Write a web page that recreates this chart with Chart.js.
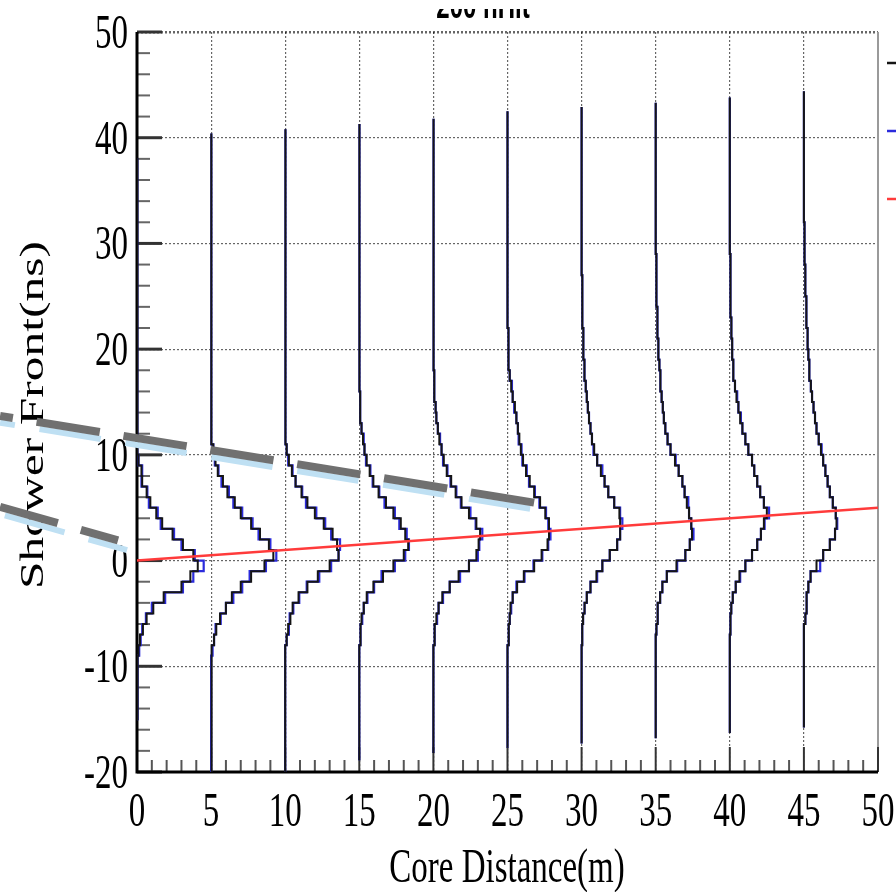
<!DOCTYPE html>
<html>
<head>
<meta charset="utf-8">
<script src="https://cdn.jsdelivr.net/npm/chart.js@4.4.1/dist/chart.umd.min.js"></script>
<style>
html, body { margin: 0; padding: 0; background: #fff; overflow: hidden; }
canvas { display: block; }
</style>
</head>
<body>
<canvas id="showerChart" width="896" height="892"></canvas>
<script>
// 芯距位置（每个剖面的基线 x）
const coreX = [0, 5, 10, 15, 20, 25, 30, 35, 40, 45];
// 基线竖线的上下端 (ns)
const stemBottom = [-15, -20, -20, -18.9, -18.2, -17.7, -17.3, -16.8, -16.3, -15.8];
const stemTop = [38, 40.4, 40.8, 41.3, 41.8, 42.5, 42.9, 43.3, 43.8, 44.4];
// 每个直方图第一个 bin 的下沿，bin 宽 1 ns
const binStart = [-10, -9, -8, -8, -8, -8, -8, -7, -7, -6];

// 黑色直方图：每个 bin 向右伸出的宽度 (m)
const blackWidths = [
    [0.05, 0.1, 0.2, 0.4, 0.65, 1.1, 1.8, 3.0, 3.6, 4.1, 3.8, 3.1, 2.4, 1.7, 1.3, 0.9, 0.65, 0.35, 0.3, 0.1, 0.05],
    [0.05, 0.2, 0.35, 0.6, 1.0, 1.4, 2.0, 2.7, 3.6, 4.2, 3.9, 3.3, 2.7, 2.0, 1.6, 1.1, 0.8, 0.45, 0.3, 0.15, 0.05],
    [0.1, 0.2, 0.35, 0.5, 0.9, 1.5, 2.2, 3.0, 3.6, 3.5, 3.2, 2.6, 2.0, 1.5, 1.1, 0.7, 0.45, 0.25, 0.1, 0.05],
    [0.05, 0.1, 0.15, 0.3, 0.5, 0.95, 1.6, 2.3, 3.0, 3.3, 3.1, 2.8, 2.3, 1.8, 1.3, 0.95, 0.7, 0.5, 0.35, 0.25, 0.15, 0.1, 0.05, 0.05, 0.03],
    [0.05, 0.1, 0.2, 0.35, 0.6, 1.1, 1.7, 2.4, 2.9, 3.05, 3.15, 2.9, 2.4, 1.9, 1.5, 1.2, 0.9, 0.7, 0.55, 0.4, 0.3, 0.2, 0.15, 0.1, 0.05, 0.05, 0.03],
    [0.05, 0.1, 0.15, 0.2, 0.35, 0.65, 1.1, 1.8, 2.3, 2.7, 2.8, 2.8, 2.55, 2.2, 1.8, 1.5, 1.25, 1.05, 0.9, 0.8, 0.7, 0.6, 0.5, 0.35, 0.25, 0.15, 0.1, 0.08, 0.05, 0.05],
    [0.03, 0.05, 0.1, 0.2, 0.35, 0.6, 1.0, 1.4, 1.9, 2.4, 2.6, 2.6, 2.55, 2.2, 1.8, 1.55, 1.3, 1.05, 0.85, 0.7, 0.6, 0.5, 0.42, 0.35, 0.28, 0.22, 0.18, 0.15, 0.12, 0.1, 0.08, 0.06, 0.05, 0.04, 0.03],
    [0.05, 0.1, 0.15, 0.3, 0.45, 0.75, 1.4, 2.0, 2.3, 2.45, 2.4, 2.25, 2.1, 1.95, 1.8, 1.55, 1.3, 1.0, 0.8, 0.65, 0.55, 0.48, 0.4, 0.35, 0.3, 0.25, 0.2, 0.17, 0.14, 0.12, 0.1, 0.08, 0.06, 0.05, 0.04, 0.03],
    [0.03, 0.05, 0.1, 0.2, 0.4, 0.65, 1.05, 1.5, 1.85, 2.1, 2.3, 2.5, 2.3, 2.05, 1.85, 1.65, 1.5, 1.25, 1.05, 0.85, 0.7, 0.58, 0.45, 0.35, 0.27, 0.22, 0.18, 0.15, 0.12, 0.1, 0.08, 0.06, 0.05, 0.04, 0.03, 0.03],
    [0.1, 0.15, 0.2, 0.3, 0.45, 0.85, 1.3, 1.75, 2.1, 2.2, 2.15, 1.95, 1.75, 1.6, 1.45, 1.3, 1.15, 1.0, 0.85, 0.75, 0.65, 0.55, 0.47, 0.4, 0.35, 0.3, 0.27, 0.24, 0.2, 0.17, 0.15, 0.12, 0.1, 0.08, 0.06, 0.05, 0.04, 0.03]
];

// 蓝色直方图
const blueWidths = [
    [0.05, 0.15, 0.25, 0.35, 0.6, 1.0, 1.9, 3.1, 3.8, 4.5, 3.9, 3.0, 2.5, 1.6, 1.4, 0.8, 0.7, 0.3, 0.35, 0.1, 0.05],
    [0.1, 0.2, 0.3, 0.65, 1.0, 1.5, 2.1, 2.6, 3.7, 4.4, 4.0, 3.2, 2.8, 2.1, 1.5, 1.2, 0.7, 0.5, 0.25, 0.15, 0.05],
    [0.1, 0.25, 0.3, 0.55, 0.95, 1.45, 2.3, 3.1, 3.6, 3.7, 3.1, 2.7, 2.1, 1.4, 1.15, 0.7, 0.5, 0.2, 0.1, 0.05],
    [0.05, 0.1, 0.2, 0.3, 0.55, 1.0, 1.5, 2.4, 3.1, 3.35, 3.2, 2.7, 2.4, 1.7, 1.35, 0.9, 0.75, 0.45, 0.35, 0.3, 0.15, 0.1, 0.05, 0.05, 0.03],
    [0.05, 0.1, 0.25, 0.35, 0.65, 1.1, 1.8, 2.4, 3.0, 3.1, 3.3, 2.85, 2.5, 1.85, 1.55, 1.15, 0.95, 0.65, 0.55, 0.45, 0.3, 0.2, 0.15, 0.1, 0.05, 0.05, 0.03],
    [0.05, 0.1, 0.15, 0.25, 0.35, 0.6, 1.15, 1.75, 2.35, 2.75, 2.9, 2.75, 2.6, 2.15, 1.85, 1.45, 1.3, 1.0, 0.95, 0.75, 0.7, 0.6, 0.45, 0.35, 0.3, 0.15, 0.1, 0.08, 0.05, 0.05],
    [0.03, 0.05, 0.1, 0.2, 0.35, 0.6, 1.05, 1.4, 1.9, 2.4, 2.6, 2.75, 2.6, 2.2, 1.8, 1.55, 1.4, 1.05, 0.8, 0.7, 0.6, 0.5, 0.42, 0.35, 0.28, 0.22, 0.18, 0.15, 0.12, 0.1, 0.08, 0.06, 0.05, 0.04, 0.03],
    [0.05, 0.1, 0.15, 0.3, 0.45, 0.75, 1.45, 2.0, 2.3, 2.55, 2.4, 2.25, 2.2, 1.95, 1.8, 1.55, 1.35, 1.0, 0.8, 0.65, 0.55, 0.48, 0.4, 0.35, 0.3, 0.25, 0.2, 0.17, 0.14, 0.12, 0.1, 0.08, 0.06, 0.05, 0.04, 0.03],
    [0.03, 0.05, 0.1, 0.2, 0.4, 0.7, 1.05, 1.5, 1.85, 2.1, 2.35, 2.65, 2.3, 2.05, 1.85, 1.65, 1.5, 1.25, 1.05, 0.85, 0.75, 0.58, 0.5, 0.35, 0.27, 0.22, 0.18, 0.15, 0.12, 0.1, 0.08, 0.06, 0.05, 0.04, 0.03, 0.03],
    [0.1, 0.15, 0.2, 0.3, 0.45, 1.1, 1.3, 1.75, 2.1, 2.25, 2.15, 1.95, 1.75, 1.6, 1.45, 1.3, 1.2, 1.0, 0.85, 0.75, 0.65, 0.55, 0.47, 0.4, 0.35, 0.3, 0.27, 0.24, 0.2, 0.17, 0.15, 0.12, 0.1, 0.08, 0.06, 0.05, 0.04, 0.03]
];

// 红色拟合线
const fitX = [0, 50];
const fitY = [0, 5];

// 两条虚线标注（灰色 + 浅蓝阴影）
const upperGrayX = [-9.24, 26.99];
const upperGrayY = [13.69, 5.44];
const upperBlueX = [-9.24, 27.4];
const upperBlueY = [13.04, 4.70];
const lowerGrayX = [-9.24, -1.28];
const lowerGrayY = [5.09, 1.91];
const lowerBlueX = [-9.24, -0.67];
const lowerBlueY = [4.40, 0.98];

// 刻度标签
const xTickLabels = [0, 5, 10, 15, 20, 25, 30, 35, 40, 45, 50];
const yTickLabels = [-20, -10, 0, 10, 20, 30, 40, 50];

const SERIF = '"Liberation Serif", "Times New Roman", serif';
const STRETCH = 1.5;

// 把直方图 bin 变成阶梯折线的点
function profilePoints(x0, bottom, top, start, widths) {
    const pts = [{ x: x0, y: bottom }, { x: x0, y: start }];
    widths.forEach((w, i) => {
        pts.push({ x: x0 + w, y: start + i }, { x: x0 + w, y: start + i + 1 });
    });
    pts.push({ x: x0, y: start + widths.length }, { x: x0, y: top });
    return pts;
}

function pairs(xs, ys) {
    return xs.map((x, i) => ({ x, y: ys[i] }));
}

const datasets = [];
coreX.forEach((x0, i) => {
    datasets.push({
        label: 'blue ' + x0,
        data: profilePoints(x0, stemBottom[i], stemTop[i], binStart[i], blueWidths[i]),
        borderColor: '#2b2bdc', borderWidth: 2.2, order: 5
    });
    datasets.push({
        label: 'black ' + x0,
        data: profilePoints(x0, stemBottom[i], stemTop[i], binStart[i], blackWidths[i]),
        borderColor: '#151515', borderWidth: 2, order: 4
    });
});
datasets.push({ label: 'fit', data: pairs(fitX, fitY), borderColor: '#ff3b3b', borderWidth: 2.5, order: 3 });
datasets.push({ label: 'upper shade', data: pairs(upperBlueX, upperBlueY), borderColor: '#bfe0f3', borderWidth: 6,
    borderDash: [62, 25], borderDashOffset: 47, clip: false, order: 2 });
datasets.push({ label: 'lower shade', data: pairs(lowerBlueX, lowerBlueY), borderColor: '#bfe0f3', borderWidth: 6,
    borderDash: [62, 25], borderDashOffset: 82, clip: false, order: 2 });
datasets.push({ label: 'upper dash', data: pairs(upperGrayX, upperGrayY), borderColor: '#707070', borderWidth: 8,
    borderDash: [64, 24], borderDashOffset: 51, clip: false, order: 1 });
datasets.push({ label: 'lower dash', data: pairs(lowerGrayX, lowerGrayY), borderColor: '#707070', borderWidth: 8,
    borderDash: [64, 24], borderDashOffset: 4, clip: false, order: 1 });
datasets.forEach(d => {
    d.showLine = true; d.pointRadius = 0; d.tension = 0; d.fill = false; d.borderJoinStyle = 'miter';
});

// 拉伸文字（原图纵向被拉长）
function tallText(ctx, text, x, y, align, baseline, font, rotate) {
    ctx.save();
    ctx.translate(x, y);
    ctx.scale(1, STRETCH);
    if (rotate) ctx.rotate(-Math.PI / 2);
    ctx.font = font;
    ctx.textAlign = align;
    ctx.textBaseline = baseline;
    ctx.fillStyle = '#000';
    ctx.fillText(text, 0, 0);
    ctx.restore();
}

const frameAndText = {
    id: 'frameAndText',
    beforeDatasetsDraw(chart) {
        const { ctx, chartArea: a, scales: { x, y } } = chart;
        ctx.save();
        // 右边框
        ctx.strokeStyle = '#9a9a9a';
        ctx.lineWidth = 2;
        ctx.beginPath(); ctx.moveTo(a.right, a.top); ctx.lineTo(a.right, a.bottom); ctx.stroke();
        // y 轴刻度（向内）
        for (let v = -20; v <= 50; v += 2) {
            const py = y.getPixelForValue(v);
            const major = v % 10 === 0;
            ctx.strokeStyle = major ? '#333' : '#666';
            ctx.lineWidth = major ? 3 : 2;
            ctx.beginPath(); ctx.moveTo(a.left, py); ctx.lineTo(a.left + (major ? 25 : 13), py); ctx.stroke();
        }
        // x 轴刻度（向内）
        for (let v = 0; v <= 50; v += 1) {
            const px = x.getPixelForValue(v);
            const major = v % 5 === 0;
            ctx.strokeStyle = major ? '#333' : '#555';
            ctx.lineWidth = 2;
            ctx.beginPath(); ctx.moveTo(px, a.bottom); ctx.lineTo(px, a.bottom - (major ? 25 : 12)); ctx.stroke();
        }
        // 坐标轴
        ctx.strokeStyle = '#000';
        ctx.lineWidth = 3;
        ctx.beginPath();
        ctx.moveTo(a.left, a.top); ctx.lineTo(a.left, a.bottom); ctx.lineTo(a.right, a.bottom);
        ctx.stroke();
        ctx.restore();

        const tickFont = '33px ' + SERIF;
        yTickLabels.forEach(v => tallText(ctx, String(v), 128, y.getPixelForValue(v) + 16, 'right', 'alphabetic', tickFont));
        xTickLabels.forEach(v => tallText(ctx, String(v), x.getPixelForValue(v), 826, 'center', 'alphabetic', tickFont));
        tallText(ctx, 'Core Distance(m)', 507, 882, 'center', 'alphabetic', '33px ' + SERIF);
        tallText(ctx, 'Shower Front(ns)', 43, 415, 'center', 'alphabetic', '33px ' + SERIF, true);

        // 标题（上半部被裁掉）
        ctx.save();
        ctx.beginPath(); ctx.rect(0, 9, chart.width, 30); ctx.clip();
        tallText(ctx, '200 nHit', 483, 18, 'center', 'alphabetic', 'bold 24px "Liberation Sans", Arial, sans-serif');
        ctx.restore();
    },
    afterDraw(chart) {
        // 图例只露出左端的线段
        const { ctx } = chart;
        const marks = [['#151515', 63], ['#2b2bdc', 131], ['#ff3b3b', 199]];
        ctx.save();
        ctx.lineWidth = 2.5;
        marks.forEach(([c, py]) => {
            ctx.strokeStyle = c;
            ctx.beginPath(); ctx.moveTo(887, py); ctx.lineTo(896, py); ctx.stroke();
        });
        ctx.restore();
    }
};

const dotted = 'rgba(0,0,0,0.6)';
new Chart(document.getElementById('showerChart'), {
    type: 'scatter',
    data: { datasets },
    options: {
        responsive: false,
        animation: false,
        layout: { padding: { top: 32, right: 18, left: 0, bottom: 0 } },
        plugins: { legend: { display: false }, tooltip: { enabled: false } },
        scales: {
            x: {
                type: 'linear', min: 0, max: 50,
                ticks: { stepSize: 5, display: false },
                grid: {
                    drawTicks: false,
                    color: c => (c.tick.value === 0 || c.tick.value === 50) ? 'rgba(0,0,0,0)' : dotted,
                    lineWidth: 1.2
                },
                border: { display: false, dash: [2, 2] },
                afterFit: s => { s.height = 120; }
            },
            y: {
                type: 'linear', min: -20, max: 50,
                ticks: { stepSize: 10, display: false },
                grid: {
                    drawTicks: false,
                    color: c => c.tick.value === -20 ? 'rgba(0,0,0,0)' : dotted,
                    lineWidth: c => c.tick.value === 50 ? 2.5 : 1.2
                },
                border: { display: false, dash: [2, 2] },
                afterFit: s => { s.width = 137; }
            }
        }
    },
    plugins: [frameAndText]
});
</script>
</body>
</html>
